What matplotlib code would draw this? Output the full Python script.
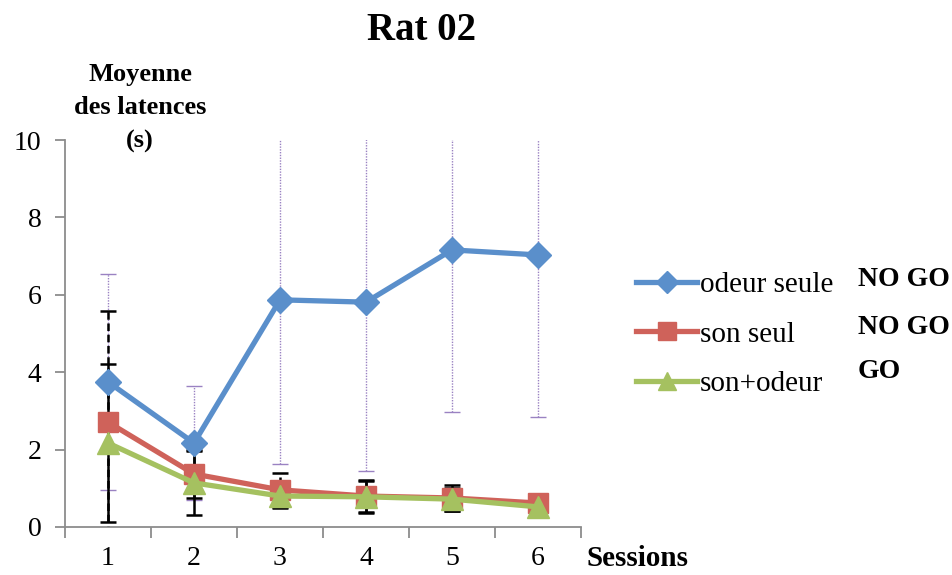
import matplotlib
matplotlib.use("Agg")
import matplotlib.pyplot as plt
from matplotlib.lines import Line2D

sessions = [1, 2, 3, 4, 5, 6]
odeur_seule = [3.75, 2.17, 5.87, 5.81, 7.16, 7.03]
odeur_seule_err = [2.79, 1.47, 4.25, 4.36, 4.19, 4.19]
son_seul = [2.71, 1.37, 0.96, 0.80, 0.75, 0.62]
son_seul_err = [2.87, 0.63, 0.44, 0.42, 0.34, 0.05]
son_odeur = [2.17, 1.14, 0.80, 0.78, 0.72, 0.52]
son_odeur_err = [2.04, 0.83, 0.30, 0.42, 0.30, 0.05]
labels = ["odeur seule", "son seul", "son+odeur"]
tags = ["NO GO", "NO GO", "GO"]
yticks = [0, 2, 4, 6, 8, 10]

FONT = ["Liberation Serif", "DejaVu Serif"]
plt.rcParams['font.family'] = FONT

c_blue = "#5A8FCB"
c_red = "#CF625A"
c_green = "#A5C160"
c_err = "#9A82C2"
c_axis = "#8C8C8C"

fig = plt.figure(figsize=(9.53, 5.75), dpi=100)
ax = fig.add_axes([65/953, 1-527/575, (581-65)/953, (527-140)/575])

# error bars (behind)
eb = ax.errorbar(sessions, odeur_seule, yerr=odeur_seule_err, fmt='none',
                 ecolor=c_err, elinewidth=1.0, capsize=5, capthick=1.0, zorder=1)
for lc in eb.lines[2]:
    lc.set_linestyle((0, (1, 1)))
for cl in eb.lines[1]:
    cl.set_linestyle('none')
    cl.set_marker('_')
    cl.set_markersize(11)
    cl.set_markeredgewidth(1.0)
    cl.set_markeredgecolor(c_err)

eb2 = ax.errorbar(sessions, son_seul, yerr=son_seul_err, fmt='none',
                  ecolor='black', elinewidth=1.8, capsize=5.5, capthick=1.8, zorder=1.5)
for lc in eb2.lines[2]:
    lc.set_linestyle((0, (3, 1.5)))
ax.errorbar(sessions, son_odeur, yerr=son_odeur_err, fmt='none',
            ecolor='black', elinewidth=1.8, capsize=5.5, capthick=1.8, zorder=1.6)

ax.plot(sessions, odeur_seule, color=c_blue, lw=3.8, marker='D', ms=13,
        zorder=3, label=labels[0])
ax.plot(sessions, son_seul, color=c_red, lw=3.8, marker='s', ms=15,
        zorder=3, label=labels[1])
ax.plot(sessions, son_odeur, color=c_green, lw=3.8, marker='^', ms=16,
        zorder=3.2, label=labels[2])

ax.set_xlim(0.5, 6.5)
ax.set_ylim(0, 10)
ax.set_yticks(yticks)
ax.set_yticklabels([str(v) for v in yticks], fontsize=20)
ax.set_xticks([0.5 + i for i in range(7)])
ax.set_xticklabels([])
ax.set_xticks(sessions, minor=True)
ax.set_xticklabels([str(s) for s in sessions], minor=True, fontsize=20)
ax.tick_params(axis='x', which='major', length=8, width=1.3, color=c_axis, direction='out')
ax.tick_params(axis='x', which='minor', length=0, pad=14)
ax.tick_params(axis='y', length=7, width=1.3, color=c_axis, direction='out', pad=10)
for s in ['top', 'right']:
    ax.spines[s].set_visible(False)
for s in ['left', 'bottom']:
    ax.spines[s].set_color(c_axis)
    ax.spines[s].set_linewidth(1.3)

fig.text(422/953, 1-30/575, "Rat 02", ha='center', va='center',
         fontsize=28, fontweight='bold')
fig.text(140/953, 1-108/575, "Moyenne\ndes latences\n(s)", ha='center', va='center',
         fontsize=19, fontweight='bold', linespacing=1.58)
fig.text(637/953, 1-558/575, "Sessions", ha='center', va='center',
         fontsize=21, fontweight='bold')

# legend
handles = [Line2D([], [], color=c_blue, lw=3.8, marker='D', ms=11),
           Line2D([], [], color=c_red, lw=3.8, marker='s', ms=13),
           Line2D([], [], color=c_green, lw=3.8, marker='^', ms=13)]
fig.legend(handles, labels, loc='upper left', bbox_to_anchor=(636/953, 1-272/575),
           frameon=False, fontsize=21, handlelength=2.1, handletextpad=0.08,
           labelspacing=0.78, borderaxespad=0, borderpad=0)

for i, (t, y) in enumerate(zip(tags, [279, 328, 371])):
    fig.text(858/953, 1-y/575, t, ha='left', va='center', fontsize=20, fontweight='bold')

fig.savefig("out.png", dpi=100)
